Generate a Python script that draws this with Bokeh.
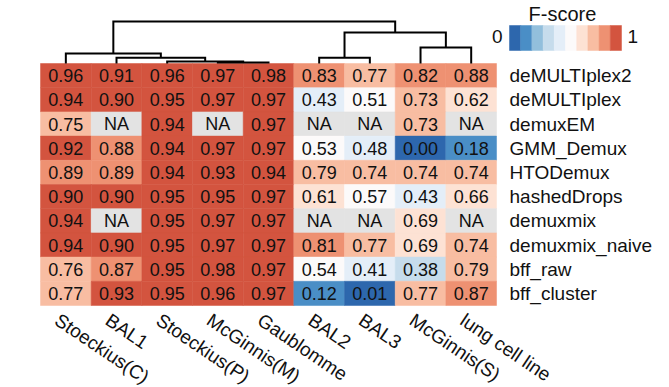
import math
from bokeh.plotting import figure
from bokeh.models import ColumnDataSource, Range1d, LinearColorMapper
from bokeh.transform import transform
from bokeh.core.properties import value
from bokeh.embed import file_html
from bokeh.resources import INLINE

# ---------------- data ----------------
columns = ["Stoeckius(C)", "BAL1", "Stoeckius(P)", "McGinnis(M)", "Gaublomme",
           "BAL2", "BAL3", "McGinnis(S)", "lung cell line"]
methods = ["deMULTIplex2", "deMULTIplex", "demuxEM", "GMM_Demux", "HTODemux",
           "hashedDrops", "demuxmix", "demuxmix_naive", "bff_raw", "bff_cluster"]
NA = float("nan")
deMULTIplex2   = [0.96, 0.91, 0.96, 0.97, 0.98, 0.83, 0.77, 0.82, 0.88]
deMULTIplex    = [0.94, 0.90, 0.95, 0.97, 0.97, 0.43, 0.51, 0.73, 0.62]
demuxEM        = [0.75, NA,   0.94, NA,   0.97, NA,   NA,   0.73, NA]
GMM_Demux      = [0.92, 0.88, 0.94, 0.97, 0.97, 0.53, 0.48, 0.00, 0.18]
HTODemux       = [0.89, 0.89, 0.94, 0.93, 0.94, 0.79, 0.74, 0.74, 0.74]
hashedDrops    = [0.90, 0.90, 0.95, 0.95, 0.97, 0.61, 0.57, 0.43, 0.66]
demuxmix       = [0.94, NA,   0.95, 0.97, 0.97, NA,   NA,   0.69, NA]
demuxmix_naive = [0.94, 0.90, 0.95, 0.97, 0.97, 0.81, 0.77, 0.69, 0.74]
bff_raw        = [0.76, 0.87, 0.95, 0.98, 0.97, 0.54, 0.41, 0.38, 0.79]
bff_cluster    = [0.77, 0.93, 0.95, 0.96, 0.97, 0.12, 0.01, 0.77, 0.87]
rows_values = [deMULTIplex2, deMULTIplex, demuxEM, GMM_Demux, HTODemux,
               hashedDrops, demuxmix, demuxmix_naive, bff_raw, bff_cluster]

# column dendrogram: (left child, right child, merge height); leaves 0..8, nodes 9..
dendro_merges = [(3, 4, 1.0), (2, 9, 2.0), (5, 6, 5.7), (1, 10, 5.7),
                 (0, 12, 10.0), (7, 8, 16.0), (11, 14, 31.0), (13, 15, 42.0)]

palette = ["#2d67ad", "#4a8ec6", "#92bfdc", "#c6dcec", "#e4eef8",
           "#fcfafa", "#fde2d4", "#f8bda2", "#ee9172", "#d3543f"]
na_color = "#e3e3e3"
legend_title = "F-score"
legend_low, legend_high = "0", "1"

# ---------------- layout ----------------
W, H = 669, 387
ORG = 0                            # page px of the canvas origin
col_w, row_h = 50.67, 24.2        # px per column / row
hm_left, hm_bottom = 40, 305      # page px of heatmap corner
nrow, ncol = len(methods), len(columns)

def px_x(px):
    return (px - hm_left) / col_w

def px_y(py):
    return (hm_bottom - py) / row_h

p = figure(width=W, height=H, output_backend="svg", toolbar_location=None,
           x_range=Range1d(px_x(ORG), px_x(ORG + W)),
           y_range=Range1d(px_y(ORG + H), px_y(ORG)),
           min_border=0, outline_line_color=None)
p.axis.visible = False
p.grid.visible = False
p.background_fill_color = "white"
p.border_fill_color = "white"

FONT = value("Liberation Sans")

# heatmap cells
xs, ys, vals, labels = [], [], [], []
for i, (m, rv) in enumerate(zip(methods, rows_values)):
    for j, v in enumerate(rv):
        xs.append(j + 0.5)
        ys.append(nrow - i - 0.5)
        vals.append(v)
        labels.append("NA" if math.isnan(v) else f"{v:.2f}")
src = ColumnDataSource(dict(x=xs, y=ys, v=vals, lab=labels))
mapper = LinearColorMapper(palette=palette, low=0, high=1, nan_color=na_color)
p.rect(x="x", y="y", width=1, height=1, source=src,
       fill_color=transform("v", mapper), line_color=transform("v", mapper),
       line_width=0.5)
p.text(x="x", y="y", text="lab", source=src, text_align="center",
       text_baseline="middle", text_font=FONT, text_font_size="18px",
       text_color="#111111")

# row labels
p.text(x=[ncol] * nrow, y=[nrow - i - 0.5 for i in range(nrow)], text=methods,
       x_offset=13, text_align="left", text_baseline="middle", text_font=FONT,
       text_font_size="19px", text_color="#111111")

# column labels
p.text(x=[j + 0.5 for j in range(ncol)], y=[0] * ncol, text=columns,
       x_offset=-3, y_offset=4, angle=-34, angle_units="deg",
       text_align="left", text_baseline="top", text_font=FONT,
       text_font_size="19px", text_color="#111111")

# dendrogram
dscale = 1.0 / row_h
node_x = {k: k + 0.5 for k in range(ncol)}
node_h = {k: 0.0 for k in range(ncol)}
dx, dy = [], []
for n, (a, b, h) in enumerate(dendro_merges):
    nid = ncol + n
    node_x[nid] = (node_x[a] + node_x[b]) / 2
    node_h[nid] = h
    dx.append([node_x[a], node_x[a], node_x[b], node_x[b]])
    dy.append([nrow + node_h[a] * dscale, nrow + h * dscale,
               nrow + h * dscale, nrow + node_h[b] * dscale])
p.multi_line(xs=dx, ys=dy, line_color="black", line_width=2,
             line_join="miter", line_cap="butt")

# colour legend
lx0, lx1, ly0, ly1 = 509, 621, 25, 50
bw = (lx1 - lx0) / len(palette)
p.quad(left=[px_x(lx0 + k * bw) for k in range(len(palette))],
       right=[px_x(lx0 + (k + 1) * bw) for k in range(len(palette))],
       bottom=[px_y(ly1)] * len(palette), top=[px_y(ly0)] * len(palette),
       fill_color=palette, line_color=palette, line_width=0.5)
p.text(x=[px_x(562)], y=[px_y(13)], text=[legend_title], text_align="center",
       text_baseline="middle", text_font=FONT, text_font_size="20px",
       text_color="#111111")
p.text(x=[px_x(502)], y=[px_y(36)], text=[legend_low], text_align="right",
       text_baseline="middle", text_font=FONT, text_font_size="19px",
       text_color="#111111")
p.text(x=[px_x(627)], y=[px_y(36)], text=[legend_high], text_align="left",
       text_baseline="middle", text_font=FONT, text_font_size="19px",
       text_color="#111111")

open("out.html", "w").write(file_html(p, INLINE))
